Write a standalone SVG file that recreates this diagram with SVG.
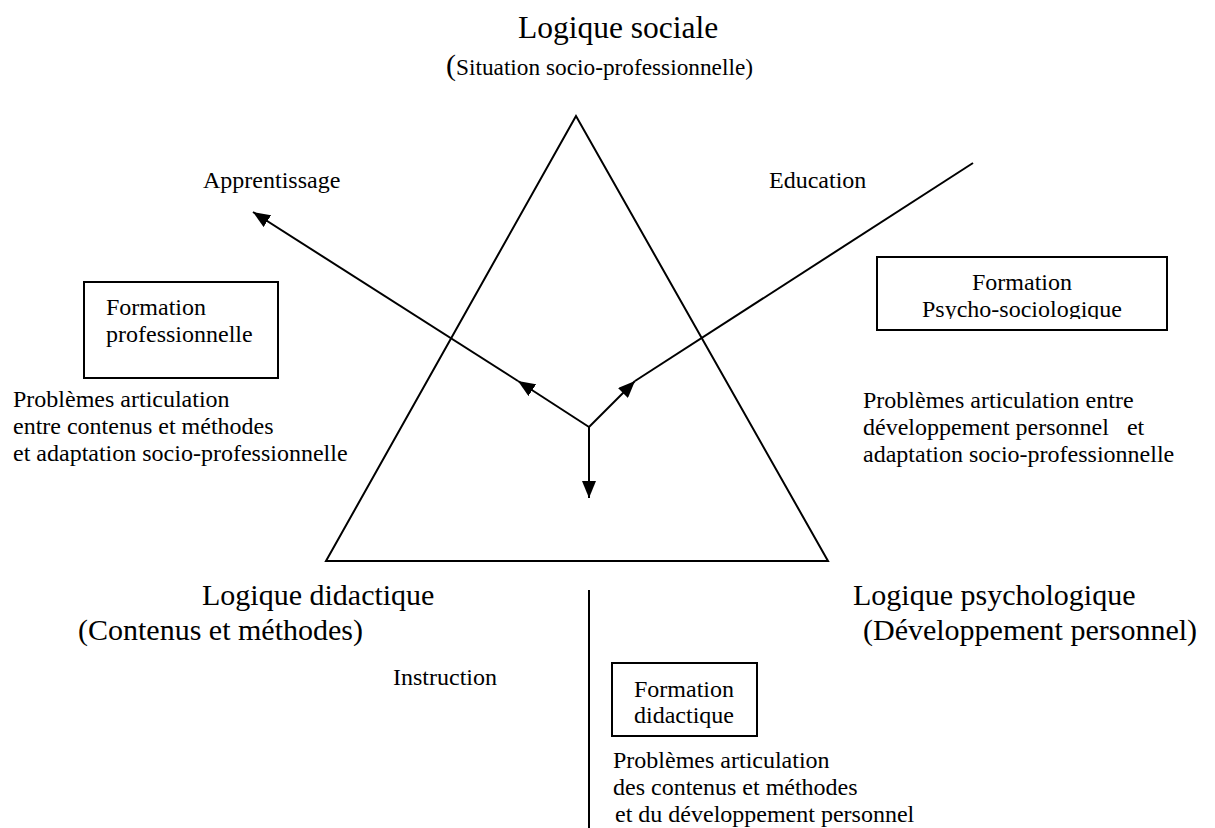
<svg xmlns="http://www.w3.org/2000/svg" width="1215" height="828" viewBox="0 0 1215 828">
<style>
text { font-family: "Liberation Serif", "Times New Roman", serif; fill: #000; white-space: pre; }
.big { font-size: 30px; }
.title { font-size: 31.5px; }
.sm { font-size: 24px; }
.line { stroke: #000; stroke-width: 2; fill: none; }
.box { stroke: #000; stroke-width: 2; fill: #fff; }
</style>
<defs>
<marker id="ah" markerUnits="userSpaceOnUse" markerWidth="17" markerHeight="14" refX="17" refY="7" orient="auto">
<path d="M0,0 L17,7 L0,14 z" fill="#000"/>
</marker>
<clipPath id="clipPsy"><rect x="877" y="257" width="290" height="62"/></clipPath>
</defs>

<g id="triangle">
<polygon class="line" points="576,116 326,561 828,561"/>
</g>

<g id="connectors">
<line class="line" x1="589" y1="427" x2="518" y2="381" marker-end="url(#ah)"/>
<line class="line" x1="518" y1="381" x2="253" y2="212" marker-end="url(#ah)"/>
<line class="line" x1="589" y1="427" x2="635" y2="381" marker-end="url(#ah)"/>
<line class="line" x1="635" y1="381" x2="973" y2="163"/>
<line class="line" x1="589" y1="427" x2="589" y2="498" marker-end="url(#ah)"/>
<line class="line" x1="589" y1="590" x2="589" y2="828"/>
</g>

<g id="logique-sociale">
<text class="title" x="518" y="38">Logique sociale</text>
<text x="446" y="75"><tspan style="font-size:30px">(</tspan><tspan style="font-size:23.3px">Situation socio-professionnelle)</tspan></text>
</g>

<g id="apprentissage"><text class="sm" x="203" y="188">Apprentissage</text></g>
<g id="education"><text class="sm" x="769" y="188">Education</text></g>

<g id="formation-professionnelle">
<rect class="box" x="84" y="282" width="194" height="96"/>
<text class="sm" x="106" y="315">Formation</text>
<text class="sm" x="106" y="342">professionnelle</text>
</g>

<g id="problemes-gauche">
<text class="sm" x="13" y="407">Problèmes articulation</text>
<text class="sm" x="13" y="434">entre contenus et méthodes</text>
<text class="sm" x="13" y="461">et adaptation socio-professionnelle</text>
</g>

<g id="formation-psycho">
<rect class="box" x="877" y="257" width="290" height="73"/>
<g clip-path="url(#clipPsy)">
<text class="sm" x="1022" y="290" text-anchor="middle">Formation</text>
<text class="sm" x="1022" y="317" text-anchor="middle">Psycho-sociologique</text>
</g>
</g>

<g id="problemes-droite">
<text class="sm" x="863" y="408">Problèmes articulation entre</text>
<text class="sm" x="863" y="435">développement personnel   et</text>
<text class="sm" x="863" y="462">adaptation socio-professionnelle</text>
</g>

<g id="logique-didactique">
<text class="big" x="202" y="605">Logique didactique</text>
<text class="big" x="78" y="640">(Contenus et méthodes)</text>
</g>

<g id="logique-psychologique">
<text class="big" x="853" y="605">Logique psychologique</text>
<text class="big" x="863" y="640">(Développement personnel)</text>
</g>

<g id="instruction"><text class="sm" x="393" y="685">Instruction</text></g>

<g id="formation-didactique">
<rect class="box" x="612" y="663" width="145" height="73"/>
<text class="sm" x="684" y="697" text-anchor="middle">Formation</text>
<text class="sm" x="684" y="723" text-anchor="middle">didactique</text>
</g>

<g id="problemes-bas">
<text class="sm" x="613" y="768">Problèmes articulation</text>
<text class="sm" x="613" y="795">des contenus et méthodes</text>
<text class="sm" x="615" y="822">et du développement personnel</text>
</g>
</svg>
